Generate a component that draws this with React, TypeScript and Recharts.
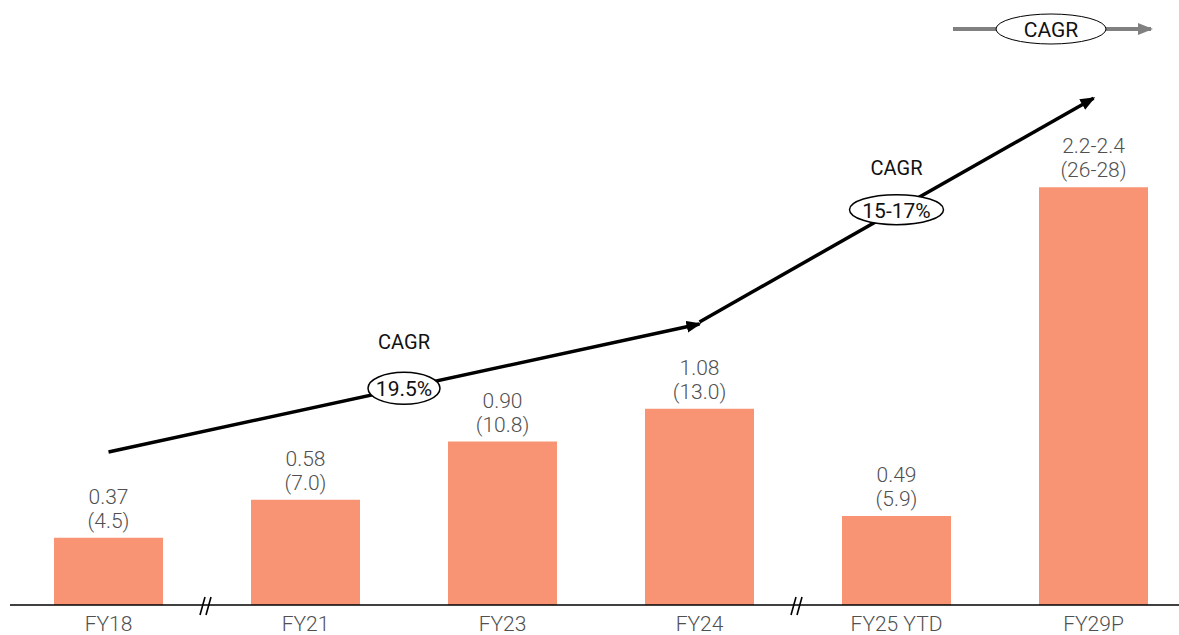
import React from 'react';
import {
  ComposedChart,
  Bar,
  Line,
  XAxis,
  YAxis,
  LabelList,
  ReferenceDot,
} from 'recharts';

const categories = ['FY18', 'FY21', 'FY23', 'FY24', 'FY25 YTD', 'FY29P'];
const values = [0.37, 0.58, 0.9, 1.08, 0.49, 2.3];
const valueLabels = ['0.37', '0.58', '0.90', '1.08', '0.49', '2.2-2.4'];
const subLabels = ['(4.5)', '(7.0)', '(10.8)', '(13.0)', '(5.9)', '(26-28)'];
const trendA = [0.842, null, null, 1.547, null, null];
const trendB = [null, null, null, 1.558, null, 2.79];

const cagrNotes = [
  { x: 1.5, y: 1.193, text: '19.5%', rx: 36, ry: 16, gap: 46 },
  { x: 4, y: 2.176, text: '15-17%', rx: 47, ry: 15, gap: 42 },
];
const breaks = [0.5, 3.5];

const BAR = '#F89473';
const GREY_TEXT = '#505050';
const FONT = 'Roboto, "Noto Sans", sans-serif';

const data = categories.map((c, i) => ({
  x: i,
  name: c,
  value: values[i],
  top: valueLabels[i],
  sub: subLabels[i],
  trendA: trendA[i],
  trendB: trendB[i],
}));

function BarLabel(props: any) {
  const { x, y, width, index } = props;
  const cx = x + width / 2;
  return (
    <g fontFamily={FONT} fontSize={21} fontWeight={300} fill={GREY_TEXT} textAnchor="middle">
      <text x={cx} y={y - 41} dominantBaseline="central">{valueLabels[index]}</text>
      <text x={cx} y={y - 17} dominantBaseline="central">{subLabels[index]}</text>
    </g>
  );
}

function CagrShape(note: (typeof cagrNotes)[number]) {
  return (props: any) => {
    const { cx, cy } = props;
    return (
      <g fontFamily={FONT}>
        <text x={cx} y={cy - note.gap} textAnchor="middle" dominantBaseline="central" fontSize={20} fill="#111">
          CAGR
        </text>
        <ellipse cx={cx} cy={cy} rx={note.rx} ry={note.ry} fill="#fff" stroke="#000" strokeWidth={1.5} />
        <text x={cx} y={cy + 1} textAnchor="middle" dominantBaseline="central" fontSize={21} fill="#111">
          {note.text}
        </text>
      </g>
    );
  };
}

function BreakShape(props: any) {
  const { cx, cy } = props;
  return (
    <g stroke="#000" strokeWidth={1.6}>
      <line x1={cx - 7} y1={cy + 10} x2={cx - 2} y2={cy - 8} />
      <line x1={cx - 1} y1={cy + 10} x2={cx + 4} y2={cy - 8} />
    </g>
  );
}

export default function App() {
  return (
    <div style={{ position: 'absolute', left: 0, top: 0, width: 1179, height: 635, overflow: 'hidden', background: '#fff' }}>
      <svg width={0} height={0} style={{ position: 'absolute' }}>
        <defs>
          <marker id="arrowBlack" markerUnits="userSpaceOnUse" markerWidth={16} markerHeight={14} refX={13} refY={6} orient="auto">
            <path d="M0,0 L15,6 L0,12 z" fill="#000" />
          </marker>
        </defs>
      </svg>
      <ComposedChart width={1192} height={635} data={data} margin={{ top: 60, right: 0, bottom: 0, left: 10 }}>
        <XAxis
          type="number"
          dataKey="x"
          domain={[-0.5, 5.5]}
          ticks={[0, 1, 2, 3, 4, 5]}
          tickFormatter={(v: number) => categories[v]}
          interval={0}
          height={30}
          axisLine={{ stroke: '#000', strokeWidth: 1.5 }}
          tickLine={false}
          tickMargin={5}
          tick={{ fontFamily: FONT, fontSize: 21, fontWeight: 300, fill: GREY_TEXT }}
          allowDataOverflow
        />
        <YAxis hide domain={[0, 3]} />
        <Bar dataKey="value" fill={BAR} barSize={109} isAnimationActive={false}>
          <LabelList dataKey="top" content={BarLabel} />
        </Bar>
        <Line
          dataKey="trendA"
          stroke="#000"
          strokeWidth={3.5}
          dot={false}
          connectNulls
          markerEnd="url(#arrowBlack)"
          isAnimationActive={false}
        />
        <Line
          dataKey="trendB"
          stroke="#000"
          strokeWidth={3.5}
          dot={false}
          connectNulls
          markerEnd="url(#arrowBlack)"
          isAnimationActive={false}
        />
        {cagrNotes.map((n) => (
          <ReferenceDot key={n.text} x={n.x} y={n.y} ifOverflow="visible" shape={CagrShape(n)} />
        ))}
        {breaks.map((b) => (
          <ReferenceDot key={b} x={b} y={0} ifOverflow="visible" shape={BreakShape} />
        ))}
      </ComposedChart>
      <svg width={1179} height={60} style={{ position: 'absolute', left: 0, top: 0 }}>
        <defs>
          <marker id="arrowGrey" markerUnits="userSpaceOnUse" markerWidth={16} markerHeight={14} refX={13} refY={6} orient="auto">
            <path d="M0,0 L15,6 L0,12 z" fill="#808080" />
          </marker>
        </defs>
        <line x1={953} y1={29} x2={1151} y2={29} stroke="#808080" strokeWidth={4} markerEnd="url(#arrowGrey)" />
        <ellipse cx={1051} cy={29} rx={55} ry={15} fill="#fff" stroke="#000" strokeWidth={1} />
        <text x={1051} y={30} textAnchor="middle" dominantBaseline="central" fontFamily={FONT} fontSize={21} fill="#111">
          CAGR
        </text>
      </svg>
    </div>
  );
}
